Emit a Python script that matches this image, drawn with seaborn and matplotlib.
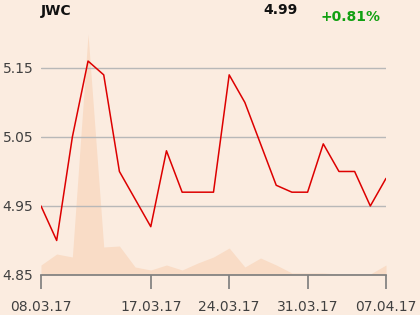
import matplotlib
matplotlib.use("Agg")
import matplotlib.pyplot as plt
import seaborn as sns
import pandas as pd
import numpy as np

dates = ["08.03.17", "09.03.17", "10.03.17", "13.03.17", "14.03.17", "15.03.17",
         "16.03.17", "17.03.17", "20.03.17", "21.03.17", "22.03.17", "23.03.17",
         "24.03.17", "27.03.17", "28.03.17", "29.03.17", "30.03.17", "31.03.17",
         "03.04.17", "04.04.17", "05.04.17", "06.04.17", "07.04.17"]
price = [4.95, 4.90, 5.05, 5.16, 5.14, 5.00, 4.96, 4.92, 5.03, 4.97, 4.97, 4.97,
         5.14, 5.10, 5.04, 4.98, 4.97, 4.97, 5.04, 5.00, 5.00, 4.95, 4.99]
volume = [10, 21, 18, 241, 28, 29, 8, 5, 10, 5, 12, 18,
          27, 8, 17, 10, 2, 2, 2, 1, 1, 1, 10]
tick_labels = ["08.03.17", "17.03.17", "24.03.17", "31.03.17", "07.04.17"]
yticks = [4.85, 4.95, 5.05, 5.15]
title = "JWC"
last_price = "4.99"
change = "+0.81%"

df = pd.DataFrame({"date": dates, "price": price, "volume": volume})
df["idx"] = np.arange(len(df))

bg = "#FBECE0"
sns.set_theme(style="white")
plt.rcParams["font.family"] = ["DejaVu Sans"]

fig = plt.figure(figsize=(4.2, 3.15), dpi=100, facecolor=bg)
ax = fig.add_axes([41/420, 40/315, 345/420, 245/315])
ax2 = ax.twinx()
ax2.set_facecolor(bg)
ax.set_zorder(ax2.get_zorder() + 1)
ax.patch.set_visible(False)

ax2.fill_between(df["idx"], 0, df["volume"], color="#F9DCC6", linewidth=0)
ax2.set_ylim(0, 245)
ax2.set_yticks([])
for s in ax2.spines.values():
    s.set_visible(False)

sns.lineplot(data=df, x="idx", y="price", ax=ax, color="#DD0000", linewidth=1.1)
ax.set_xlim(0, len(df) - 1)
ax.set_ylim(4.85, 5.205)
ax.set_yticks(yticks)
ax.set_yticklabels([f"{v:.2f}" for v in yticks])
ax.yaxis.grid(True, color="#B8B8B8", linewidth=1)
pos = [dates.index(t) for t in tick_labels]
ax.set_xticks(pos)
ax.set_xticklabels(tick_labels)
ax.set_xlabel("")
ax.set_ylabel("")
for k in ["top", "right", "left"]:
    ax.spines[k].set_visible(False)
ax.spines["bottom"].set_color("#808080")
ax.tick_params(axis="x", length=10, color="#808080", labelsize=10,
               labelcolor="#404040", pad=8, bottom=True)
ax.tick_params(axis="y", length=0, labelsize=10, labelcolor="#404040", pad=5.5)

fig.text(41/420, 1 - 11/315, title, fontsize=10, fontweight="bold",
         color="#111111", va="center", ha="left")
fig.text(298/420, 1 - 10/315, last_price, fontsize=10, fontweight="bold",
         color="#111111", va="center", ha="right")
fig.text(381/420, 1 - 17/315, change, fontsize=10, fontweight="bold",
         color="#11A011", va="center", ha="right")

fig.savefig("out.png", dpi=100, facecolor=bg)
